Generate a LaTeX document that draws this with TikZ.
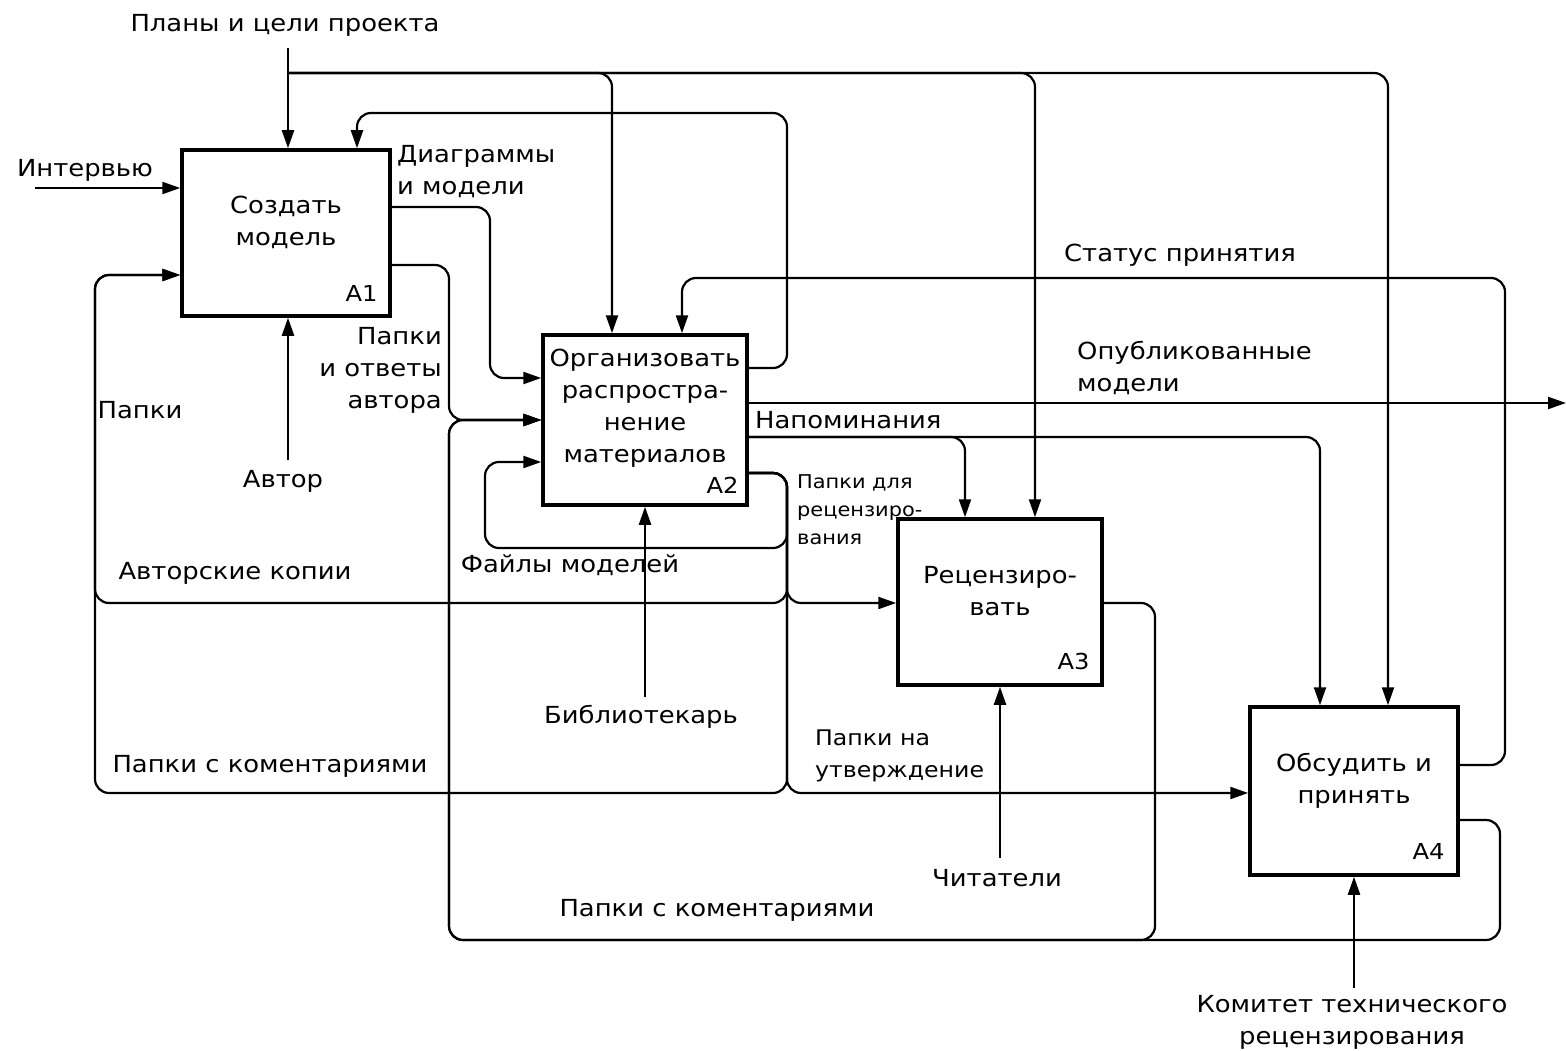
\documentclass[tikz,border=0pt]{standalone}
\usepackage{fontspec}
\setmainfont[FakeStretch=1.1]{DejaVu Sans}
\usetikzlibrary{arrows.meta,calc}

\tikzset{
  func/.style={draw, line width=3.5pt, inner sep=0pt},
  boxtxt/.style={inner sep=0pt, align=center, font=\fontsize{23.5}{32}\selectfont},
  boxid/.style={inner sep=0pt, anchor=base east, font=\fontsize{22}{26}\selectfont},
  flow/.style={line width=2.2pt, rounded corners=14pt, -{Triangle[length=18pt,width=12pt]}},
  lbl/.style={inner sep=0pt, align=left, font=\fontsize{23.5}{32}\selectfont},
  small/.style={inner sep=0pt, align=left, font=\fontsize{19}{28}\selectfont}
}

\begin{document}
\begin{tikzpicture}[x=1pt,y=-1pt]
\useasboundingbox (0,0) rectangle (1566,1051);

% functions
\node[func, minimum width=208pt, minimum height=166pt] (A1) at (286,233) {};
\node[func, minimum width=204pt, minimum height=170pt] (A2) at (645,420) {};
\node[func, minimum width=204pt, minimum height=166pt] (A3) at (1000,602) {};
\node[func, minimum width=208pt, minimum height=168pt] (A4) at (1354,791) {};

\node[boxtxt] (A1t) at ($(A1.center)+(0,-11)$) {Создать\\модель};
\node[boxtxt] (A2t) at ($(A2.center)+(0,-12)$) {Организовать\\распростра-\\нение\\материалов};
\node[boxtxt] (A3t) at ($(A3.center)+(0,-11)$) {Рецензиро-\\вать};
\node[boxtxt] (A4t) at ($(A4.center)+(0,-10)$) {Обсудить и\\принять};
\node[boxid] (A1n) at ($(A1.south east)+(-14,-16)$) {A1};
\node[boxid] (A2n) at ($(A2.south east)+(-10,-13)$) {A2};
\node[boxid] (A3n) at ($(A3.south east)+(-14,-17)$) {A3};
\node[boxid] (A4n) at ($(A4.south east)+(-15,-17)$) {A4};

% ports
\coordinate (a1c1) at ($(A1.north)+(2,0)$);
\coordinate (a1c2) at ($(A1.north)+(71,0)$);
\coordinate (a1i1) at ($(A1.west)+(0,-45)$);
\coordinate (a1i2) at ($(A1.west)+(0,42)$);
\coordinate (a1o1) at ($(A1.east)+(0,-26)$);
\coordinate (a1o2) at ($(A1.east)+(0,32)$);
\coordinate (a1m) at ($(A1.south)+(2,0)$);
\coordinate (a2c1) at ($(A2.north)+(-33,0)$);
\coordinate (a2c2) at ($(A2.north)+(37,0)$);
\coordinate (a2i1) at ($(A2.west)+(0,-42)$);
\coordinate (a2i2) at (A2.west);
\coordinate (a2i3) at ($(A2.west)+(0,42)$);
\coordinate (a2o1) at ($(A2.east)+(0,-52)$);
\coordinate (a2o2) at ($(A2.east)+(0,-17)$);
\coordinate (a2o3) at ($(A2.east)+(0,17)$);
\coordinate (a2o4) at ($(A2.east)+(0,53)$);
\coordinate (a2m) at (A2.south);
\coordinate (a3c1) at ($(A3.north)+(-35,0)$);
\coordinate (a3c2) at ($(A3.north)+(35,0)$);
\coordinate (a3i) at ($(A3.west)+(0,1)$);
\coordinate (a3o) at ($(A3.east)+(0,1)$);
\coordinate (a3m) at (A3.south);
\coordinate (a4c1) at ($(A4.north)+(-34,0)$);
\coordinate (a4c2) at ($(A4.north)+(34,0)$);
\coordinate (a4i) at ($(A4.west)+(0,2)$);
\coordinate (a4o1) at ($(A4.east)+(0,-26)$);
\coordinate (a4o2) at ($(A4.east)+(0,29)$);
\coordinate (a4m) at (A4.south);

% free ends
\coordinate (plan) at (288,48);
\coordinate (plj) at (288,73);
\coordinate (intv) at (35,188);
\coordinate (pub) at (1566,403);
\coordinate (autor) at (288,460);
\coordinate (libr) at (645,697);
\coordinate (readr) at (1000,858);
\coordinate (comm) at (1354,988);

% controls
\draw[flow] (plan) -- (a1c1);
\draw[flow] (plj) -| (a2c1);
\draw[flow] (plj) -| (a3c2);
\draw[flow] (plj) -| (a4c2);
\draw[flow] (a2o1) -| (787,113) -| (a1c2);
\draw[flow] (a4o1) -| (1505,278) -| (a2c2);
\draw[flow] (a2o3) -| (a3c1);
\draw[flow] (a2o3) -| (a4c1);

% inputs and outputs
\draw[flow] (intv) -- (a1i1);
\draw[flow] (a1o1) -| (490,378) -- (a2i1);
\draw[flow] (a1o2) -| (449,420) -- (a2i2);
\draw[flow] (a2o2) -- (pub);
\draw[flow] (a2o4) -| (787,548) -| (485,462) -- (a2i3);
\draw[flow] (a2o4) -| (787,603) -- (a3i);
\draw[flow] (a2o4) -| (787,603) -| (95,275) -- (a1i2);
\draw[flow] (a2o4) -| (787,793) -| (95,275) -- (a1i2);
\draw[flow] (a2o4) -| (787,793) -- (a4i);
\draw[flow] (a4o2) -| (1500,940) -| (449,420) -- (a2i2);
\draw[flow] (a3o) -| (1155,940) -| (449,420) -- (a2i2);

% mechanisms
\draw[flow] (autor) -- (a1m);
\draw[flow] (libr) -- (a2m);
\draw[flow] (readr) -- (a3m);
\draw[flow] (comm) -- (a4m);

% labels
\node[lbl] (tPlan) at (285,25) {Планы и цели проекта};
\node[lbl] (tIntv) at (85,170) {Интервью};
\node[lbl, anchor=west] (tDiag) at (397,172) {Диаграммы\\и модели};
\node[lbl, anchor=east, align=right] (tPapA) at (442,370) {Папки\\и ответы\\автора};
\node[lbl] (tPap) at (140,410) {Папки};
\node[lbl] (tAut) at (283,481) {Автор};
\node[lbl] (tCop) at (235,573) {Авторские копии};
\node[lbl] (tFiles) at (570,565) {Файлы моделей};
\node[lbl] (tLib) at (641,717) {Библиотекарь};
\node[lbl] (tCom1) at (270,766) {Папки с коментариями};
\node[lbl] (tCom2) at (717,910) {Папки с коментариями};
\node[lbl] (tStat) at (1180,255) {Статус принятия};
\node[lbl, anchor=west] (tPub) at (1077,368) {Опубликованные\\модели};
\node[lbl, anchor=west] (tRem) at (755,420) {Напоминания};
\node[small, anchor=west] (tRev) at (797,510) {Папки для\\рецензиро-\\вания};
\node[lbl, anchor=west, font=\fontsize{21.5}{32}\selectfont] (tAppr) at (815,756) {Папки на\\утверждение};
\node[lbl] (tRead) at (997,878) {Читатели};
\node[lbl, align=center] (tComm) at (1352,1022) {Комитет технического\\рецензирования};
\end{tikzpicture}
\end{document}
